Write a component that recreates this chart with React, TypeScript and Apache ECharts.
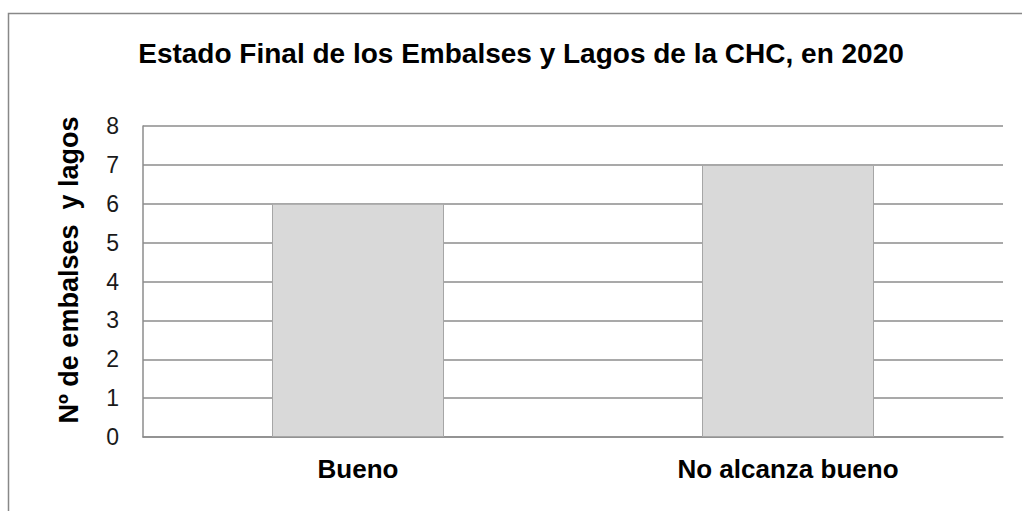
import React, { useEffect, useRef } from "react";
import * as echarts from "echarts";

const categories = ["Bueno", "No alcanza bueno"];
const values = [6, 7];
const yTicks = { min: 0, max: 8, interval: 1 };

export default function App() {
  const ref = useRef<HTMLDivElement>(null);
  useEffect(() => {
    if (!ref.current) return;
    const chart = echarts.init(ref.current, null, { renderer: "svg" });
    chart.setOption({
      animation: false,
      backgroundColor: "#ffffff",
      title: {
        text: "Estado Final de los Embalses y Lagos de la CHC, en 2020",
        left: 516,
        textAlign: "center",
        top: 34,
        textStyle: {
          fontFamily: "Liberation Sans, Arial, sans-serif",
          fontSize: 28,
          fontWeight: "bold",
          color: "#000",
        },
      },
      graphic: [
        {
          type: "rect",
          shape: { x: 8.5, y: 13.5, width: 1100, height: 600 },
          style: { fill: "none", stroke: "#888888", lineWidth: 1.5 },
          silent: true,
        },
      ],
      grid: { left: 143, top: 126, right: 19, bottom: 74 },
      xAxis: {
        type: "category",
        data: categories,
        axisLine: { show: true, lineStyle: { color: "#8c8c8c", width: 1.5 } },
        axisTick: { show: false },
        axisLabel: {
          fontFamily: "Liberation Sans, Arial, sans-serif",
          fontSize: 26,
          fontWeight: "bold",
          color: "#000",
          margin: 19,
        },
      },
      yAxis: {
        type: "value",
        min: yTicks.min,
        max: yTicks.max,
        interval: yTicks.interval,
        name: "Nº de embalses  y lagos",
        nameLocation: "middle",
        nameGap: 61,
        nameRotate: 90,
        nameTextStyle: {
          fontFamily: "Liberation Sans, Arial, sans-serif",
          fontSize: 27,
          fontWeight: "bold",
          color: "#000",
          padding: [0, 0, 0, 23],
        },
        axisLine: { show: true, lineStyle: { color: "#8c8c8c", width: 1.5 } },
        axisTick: { show: false },
        splitLine: { show: true, lineStyle: { color: "#8c8c8c", width: 1.5 } },
        axisLabel: {
          fontFamily: "Liberation Sans, Arial, sans-serif",
          fontSize: 23,
          color: "#1a1a1a",
          margin: 24,
        },
      },
      series: [
        {
          type: "bar",
          data: values,
          barWidth: "40%",
          itemStyle: { color: "#d9d9d9", borderColor: "#a6a6a6", borderWidth: 1 },
        },
      ],
    });
    return () => chart.dispose();
  }, []);
  return (
    <div
      ref={ref}
      style={{ position: "fixed", left: 0, top: 0, width: 1022, height: 511 }}
    />
  );
}
